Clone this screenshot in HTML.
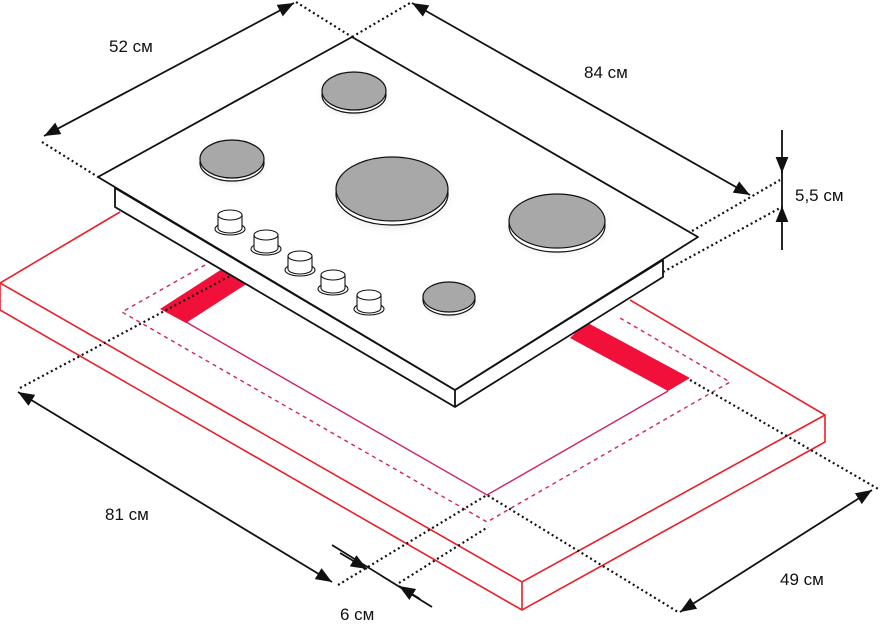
<!DOCTYPE html>
<html><head><meta charset="utf-8"><style>
html,body{margin:0;padding:0;background:#fff;}
svg{display:block;}
text{font-family:"Liberation Sans",sans-serif;font-size:17px;fill:#111;}
</style></head><body>
<svg width="882" height="641" viewBox="0 0 882 641" xmlns="http://www.w3.org/2000/svg">
<defs>
<marker id="a" viewBox="0 0 10 10" refX="10" refY="5" markerWidth="9" markerHeight="9" orient="auto-start-reverse"><path d="M0,1 L10,5 L0,9 z" fill="#111"/></marker>
<radialGradient id="sh" cx="50%" cy="50%" r="50%"><stop offset="0.6" stop-color="#ddd"/><stop offset="1" stop-color="#fff" stop-opacity="0"/></radialGradient>
</defs>
<rect width="882" height="641" fill="#fff"/>
<!-- countertop -->
<g fill="none" stroke="#e8202a" stroke-width="1.6">
<path d="M120,212 L0,283 L0,310 L522,610 L825,442 L825,415 L630,300"/>
<path d="M0,283 L522,582 L825,415 M522,582 L522,610"/>
</g>
<!-- cutout -->
<g fill="none" stroke="#d0206a" stroke-width="1.4">
<path d="M186,322 L487,495 L668,391"/>
<path d="M205,265 L122,312 L487,522 L730,382 L620,318" stroke-dasharray="4,4"/>
</g>
<polygon points="160,309 186,323 248,283 222,269" fill="#f0103a"/>
<polygon points="570,338 586,322 690,378 668,391" fill="#f0103a"/>
<!-- dotted extension lines -->
<g fill="none" stroke="#111" stroke-width="2.2" stroke-dasharray="2,3">
<path d="M42,142 L98,177"/><path d="M296,2 L352,37"/><path d="M352,37 L410,3"/>
<path d="M692,231 L780,180"/><path d="M663,272 L780,208"/>
<path d="M20,388 L245,268"/>
<path d="M338,585 L487,495 L678,612"/><path d="M399,583 L488,527"/>
<path d="M690,380 L880,490"/>
</g>
<!-- hob -->
<g stroke="#111" stroke-width="1.8" fill="#fff" stroke-linejoin="round">
<path d="M115,188 L115,207 L455,407 L663,277 L663,260 L455,390 Z"/>
<path d="M98,177 L352,37 L698,237 L455,390 Z"/>
<path d="M455,390 L455,407"/>
</g>
<g>
<ellipse cx="354" cy="95" rx="40" ry="26" fill="url(#sh)"/>
<ellipse cx="232" cy="163" rx="40" ry="26" fill="url(#sh)"/>
<ellipse cx="392" cy="195" rx="68" ry="42" fill="url(#sh)"/>
<ellipse cx="557" cy="226" rx="58" ry="35" fill="url(#sh)"/>
<ellipse cx="449" cy="301" rx="32" ry="21" fill="url(#sh)"/>
</g>
<g stroke="#111" stroke-width="1.2">
<ellipse cx="354" cy="95" rx="32" ry="18" fill="#fff"/><ellipse cx="354" cy="91" rx="32" ry="19" fill="#a8a8a8"/>
<ellipse cx="232" cy="163" rx="32" ry="18" fill="#fff"/><ellipse cx="232" cy="159" rx="32" ry="19" fill="#a8a8a8"/>
<ellipse cx="392" cy="194" rx="56" ry="31" fill="#fff"/><ellipse cx="392" cy="189" rx="56" ry="32" fill="#a8a8a8"/>
<ellipse cx="557" cy="226" rx="48" ry="26" fill="#fff"/><ellipse cx="557" cy="221" rx="48" ry="27" fill="#a8a8a8"/>
<ellipse cx="449" cy="300" rx="26" ry="15" fill="#fff"/><ellipse cx="449" cy="297" rx="26" ry="15" fill="#a8a8a8"/>
</g>
<g stroke="#111" stroke-width="1.1" fill="#fff">
<g transform="translate(230,221)"><ellipse cx="0" cy="8" rx="15" ry="6"/><path d="M-12,-6 L-12,7 A12,5 0 0 0 12,7 L12,-6"/><ellipse cx="0" cy="-6" rx="12" ry="5"/></g>
<g transform="translate(266,241)"><ellipse cx="0" cy="8" rx="15" ry="6"/><path d="M-12,-6 L-12,7 A12,5 0 0 0 12,7 L12,-6"/><ellipse cx="0" cy="-6" rx="12" ry="5"/></g>
<g transform="translate(300,262)"><ellipse cx="0" cy="8" rx="15" ry="6"/><path d="M-12,-6 L-12,7 A12,5 0 0 0 12,7 L12,-6"/><ellipse cx="0" cy="-6" rx="12" ry="5"/></g>
<g transform="translate(333,281)"><ellipse cx="0" cy="8" rx="15" ry="6"/><path d="M-12,-6 L-12,7 A12,5 0 0 0 12,7 L12,-6"/><ellipse cx="0" cy="-6" rx="12" ry="5"/></g>
<g transform="translate(369,301)"><ellipse cx="0" cy="8" rx="15" ry="6"/><path d="M-12,-6 L-12,7 A12,5 0 0 0 12,7 L12,-6"/><ellipse cx="0" cy="-6" rx="12" ry="5"/></g>
</g>
<!-- dimension arrows -->
<g stroke="#111" stroke-width="1.8" fill="none">
<path d="M44,136 L294,3" marker-start="url(#a)" marker-end="url(#a)"/>
<path d="M412,3 L750,195" marker-start="url(#a)" marker-end="url(#a)"/>
<path d="M782,130 L782,173" marker-end="url(#a)"/>
<path d="M782,250 L782,206" marker-end="url(#a)"/>
<path d="M782,170 L782,210"/>
<path d="M18,392 L332,582" marker-start="url(#a)" marker-end="url(#a)"/>
<path d="M332,545 L432,607"/>
<path d="M340,553 L367,569" marker-end="url(#a)"/>
<path d="M420,599 L399,586" marker-end="url(#a)"/>
<path d="M680,612 L872,490" marker-start="url(#a)" marker-end="url(#a)"/>
</g>
<text x="109" y="52">52 см</text>
<text x="584" y="78">84 см</text>
<text x="795" y="201">5,5 см</text>
<text x="105" y="520">81 см</text>
<text x="340" y="620">6 см</text>
<text x="780" y="585">49 см</text>
</svg>
</body></html>
